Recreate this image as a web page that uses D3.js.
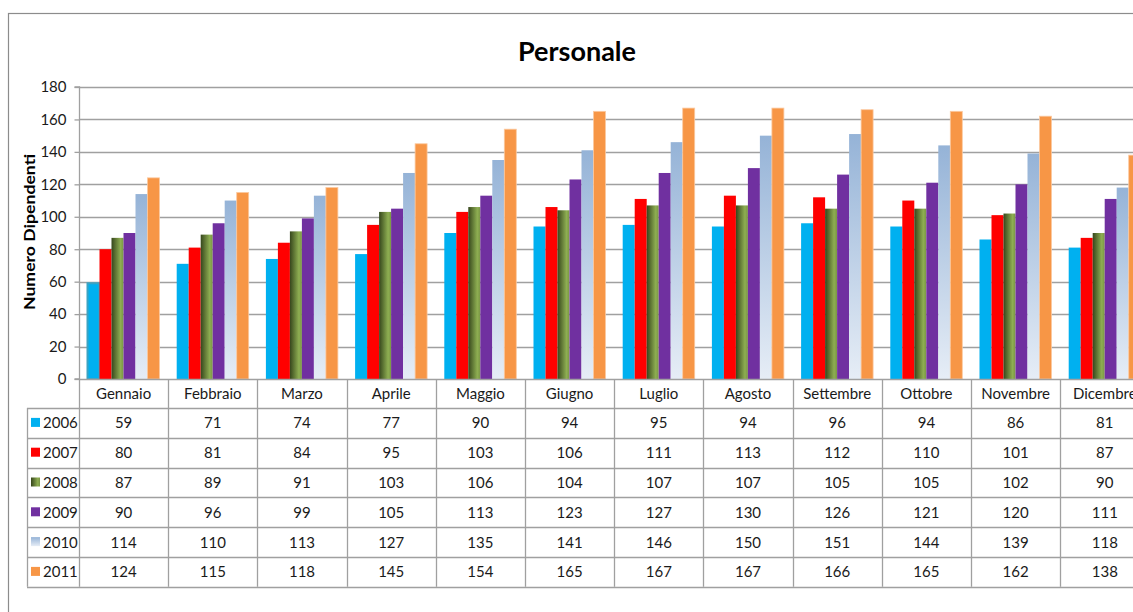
<!DOCTYPE html>
<html>
<head>
<meta charset="utf-8">
<script src="https://cdn.jsdelivr.net/npm/d3@7/dist/d3.min.js"></script>
<style>
  html, body { margin: 0; padding: 0; background: #fff; overflow: hidden; }
  svg { display: block; font-family: Lato, "Open Sans", sans-serif; }
</style>
</head>
<body>
<svg id="chart" width="1133" height="612"></svg>
<script>
const months = ["Gennaio","Febbraio","Marzo","Aprile","Maggio","Giugno","Luglio","Agosto","Settembre","Ottobre","Novembre","Dicembre"];
const years = ["2006","2007","2008","2009","2010","2011"];
const v2006 = [59, 71, 74, 77, 90, 94, 95, 94, 96, 94, 86, 81];
const v2007 = [80, 81, 84, 95, 103, 106, 111, 113, 112, 110, 101, 87];
const v2008 = [87, 89, 91, 103, 106, 104, 107, 107, 105, 105, 102, 90];
const v2009 = [90, 96, 99, 105, 113, 123, 127, 130, 126, 121, 120, 111];
const v2010 = [114, 110, 113, 127, 135, 141, 146, 150, 151, 144, 139, 118];
const v2011 = [124, 115, 118, 145, 154, 165, 167, 167, 166, 165, 162, 138];
const yTicks = [0, 20, 40, 60, 80, 100, 120, 140, 160, 180];
const title = "Personale";
const yTitle = "Numero Dipendenti";

const seriesValues = [v2006, v2007, v2008, v2009, v2010, v2011];
const series = years.map((y, i) => ({ year: y, values: seriesValues[i] }));

const svg = d3.select("#chart");
const defs = svg.append("defs");

// gradients
const g2008 = defs.append("linearGradient").attr("id", "g2008")
  .attr("x1", "0%").attr("x2", "100%").attr("y1", "0%").attr("y2", "0%");
g2008.append("stop").attr("offset", "0%").attr("stop-color", "#36461c");
g2008.append("stop").attr("offset", "75%").attr("stop-color", "#8eae52");
g2008.append("stop").attr("offset", "100%").attr("stop-color", "#7a9645");
const g2010 = defs.append("linearGradient").attr("id", "g2010")
  .attr("x1", "0%").attr("x2", "0%").attr("y1", "0%").attr("y2", "100%");
g2010.append("stop").attr("offset", "0%").attr("stop-color", "#95b3d7");
g2010.append("stop").attr("offset", "100%").attr("stop-color", "#e6edf6");

const fills = {
  "2006": "#00b0f0",
  "2007": "#ff0000",
  "2008": "url(#g2008)",
  "2009": "#7030a0",
  "2010": "url(#g2010)",
  "2011": "#f79646"
};

// outer border
svg.append("rect").attr("x", 8.5).attr("y", 13.5).attr("width", 1300).attr("height", 800)
  .attr("fill", "none").attr("stroke", "#8c8c8c").attr("stroke-width", 1.2);

// title
svg.append("text").attr("x", 577).attr("y", 61).attr("text-anchor", "middle")
  .attr("font-size", 27).attr("font-weight", "bold").attr("fill", "#000").text(title);

const x0 = 79, step = 89.2;
const x = d3.scaleBand().domain(months).range([x0, x0 + step * months.length]).paddingInner(0).paddingOuter(0);
const xi = d3.scaleBand().domain(years).range([8.5, 80.5]).padding(0);
const y = d3.scaleLinear().domain([0, 180]).range([379, 87]);

// gridlines
svg.append("g").selectAll("line").data(yTicks.filter(t => t > 0)).join("line")
  .attr("x1", x0).attr("x2", 1133)
  .attr("y1", d => Math.round(y(d)) + 0.5).attr("y2", d => Math.round(y(d)) + 0.5)
  .attr("stroke", "#a0a0a0").attr("stroke-width", 1.3);

// y axis
const yAxis = d3.axisLeft(y).tickValues(yTicks).tickSize(5).tickPadding(8);
const ya = svg.append("g").attr("transform", `translate(${x0 + 0.5},0)`).call(yAxis);
ya.select(".domain").attr("stroke", "#a0a0a0").attr("stroke-width", 1.3).attr("d", `M-5,${y(180)}H0V${y(0)}H-5`);
ya.selectAll(".tick line").attr("stroke", "#a0a0a0").attr("stroke-width", 1.3);
ya.selectAll(".tick text").attr("font-size", 15).attr("fill", "#1a1a1a").attr("font-family", "Lato, sans-serif");

// y title
svg.append("text").attr("transform", "translate(35,232) rotate(-90)")
  .attr("text-anchor", "middle").attr("font-size", 15).attr("font-weight", "bold")
  .attr("textLength", 156).attr("lengthAdjust", "spacingAndGlyphs").text(yTitle);

// bars
const groups = svg.append("g").selectAll("g").data(series).join("g");
groups.selectAll("rect").data(s => s.values.map((v, i) => ({ year: s.year, month: months[i], v, i }))).join("rect")
  .attr("x", d => x(d.month) + xi(d.year))
  .attr("width", xi.bandwidth())
  .attr("y", d => y(d.v))
  .attr("height", d => y(0) - y(d.v))
  .attr("fill", d => fills[d.year])
  .attr("stroke", d => (d.year === "2006" && d.i === 0) ? "#3aa3c4" : (d.year === "2011" ? "#fbc9a0" : "none"))
  .attr("stroke-width", d => (d.year === "2006" && d.i === 0) ? 2 : 0.8);

// x axis line (bottom of plot / top of table header)
svg.append("line").attr("x1", x0).attr("x2", 1133).attr("y1", 379.5).attr("y2", 379.5)
  .attr("stroke", "#a0a0a0").attr("stroke-width", 1.3);

// data table
const rowTop = 408, rowH = 29.8, tableLeft = 27;
const tableBottom = rowTop + rowH * years.length;
const tbl = svg.append("g");
tbl.selectAll("line.h").data(d3.range(years.length + 1)).join("line").attr("class", "h")
  .attr("x1", tableLeft).attr("x2", 1133)
  .attr("y1", i => Math.round(rowTop + i * rowH) + 0.5).attr("y2", i => Math.round(rowTop + i * rowH) + 0.5)
  .attr("stroke", "#a0a0a0").attr("stroke-width", 1.3);
tbl.selectAll("line.v").data(d3.range(months.length + 1)).join("line").attr("class", "v")
  .attr("x1", i => Math.round(x0 + i * step) + 0.5).attr("x2", i => Math.round(x0 + i * step) + 0.5)
  .attr("y1", 379).attr("y2", tableBottom)
  .attr("stroke", "#a0a0a0").attr("stroke-width", 1.3);
tbl.append("line").attr("x1", tableLeft + 0.5).attr("x2", tableLeft + 0.5).attr("y1", rowTop).attr("y2", tableBottom)
  .attr("stroke", "#a0a0a0").attr("stroke-width", 1.3);

// header labels
tbl.selectAll("text.m").data(months).join("text").attr("class", "m")
  .attr("x", d => x(d) + x.bandwidth() / 2).attr("y", 399)
  .attr("text-anchor", "middle").attr("font-size", 15).attr("fill", "#1a1a1a").text(d => d);

// rows
series.forEach((s, r) => {
  const cy = rowTop + r * rowH + rowH / 2;
  tbl.append("rect").attr("x", 31).attr("y", cy - 5).attr("width", 9).attr("height", 9)
    .attr("fill", fills[s.year]);
  tbl.append("text").attr("x", 43).attr("y", cy + 5.5).attr("font-size", 15).attr("fill", "#1a1a1a").text(s.year);
  tbl.selectAll(null).data(s.values).join("text")
    .attr("x", (d, i) => x(months[i]) + x.bandwidth() / 2).attr("y", cy + 5.5)
    .attr("text-anchor", "middle").attr("font-size", 15).attr("fill", "#1a1a1a").text(d => d);
});
</script>
</body>
</html>
